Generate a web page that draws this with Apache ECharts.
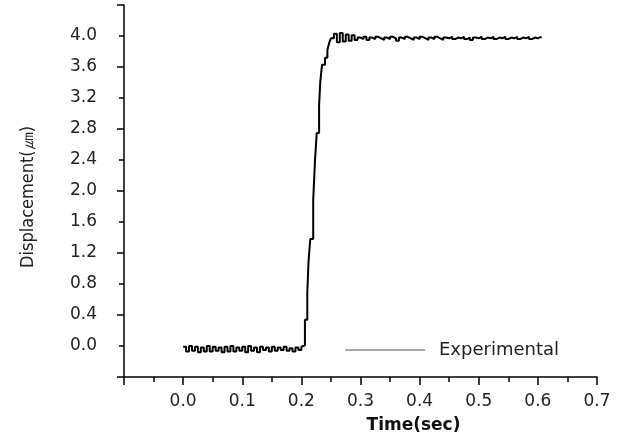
<!DOCTYPE html>
<html>
<head>
<meta charset="utf-8">
<script src="https://cdn.jsdelivr.net/npm/echarts@6/dist/echarts.min.js"></script>
<style>
html,body{margin:0;padding:0;background:#fff;}
#chart{width:622px;height:435px;}
</style>
</head>
<body>
<div id="chart"></div>
<script>
// baseline before the step (s, um)
var baseTime = [0, 0.005, 0.01, 0.015, 0.02, 0.025, 0.03, 0.035, 0.04, 0.045,
    0.05, 0.055, 0.06, 0.065, 0.07, 0.075, 0.08, 0.085, 0.09, 0.095,
    0.1, 0.105, 0.11, 0.115, 0.12, 0.125, 0.13, 0.135, 0.14, 0.145,
    0.15, 0.155, 0.16, 0.165, 0.17, 0.175, 0.18, 0.185, 0.19, 0.195,
    0.2, 0.203];
var baseValue = [-0.01, -0.07, 0.0, -0.06, -0.01, -0.08, -0.02, -0.07, 0.0, -0.07,
    -0.01, -0.06, -0.02, -0.08, -0.01, -0.07, 0.0, -0.07, -0.02, -0.06,
    -0.01, -0.08, 0.0, -0.06, -0.02, -0.08, -0.01, -0.05, -0.02, -0.07,
    -0.01, -0.06, -0.02, -0.05, -0.01, -0.06, -0.03, -0.07, -0.02, -0.05,
    -0.01, 0.01];
// the rise
var riseTime = [0.206, 0.210, 0.212, 0.215, 0.220, 0.223, 0.226, 0.230, 0.232, 0.235, 0.240, 0.244, 0.247, 0.250];
var riseValue = [0.34, 0.68, 1.08, 1.38, 1.88, 2.39, 2.75, 3.11, 3.41, 3.63, 3.72, 3.82, 3.91, 3.97];
// plateau
var plateauTime = [0.255, 0.26, 0.265, 0.27, 0.275, 0.28, 0.285, 0.29, 0.295, 0.30,
    0.305, 0.31, 0.315, 0.32, 0.325, 0.33, 0.335, 0.34, 0.345, 0.35,
    0.355, 0.36, 0.365, 0.37, 0.375, 0.38, 0.385, 0.39, 0.395, 0.40,
    0.405, 0.41, 0.415, 0.42, 0.425, 0.43, 0.435, 0.44, 0.445, 0.45,
    0.455, 0.46, 0.465, 0.47, 0.475, 0.48, 0.485, 0.49, 0.495, 0.50,
    0.505, 0.51, 0.515, 0.52, 0.525, 0.53, 0.535, 0.54, 0.545, 0.55,
    0.555, 0.56, 0.565, 0.57, 0.575, 0.58, 0.585, 0.59, 0.595, 0.60,
    0.605];
var plateauValue = [4.03, 3.92, 4.04, 3.93, 4.02, 3.94, 4.01, 3.95, 3.98, 3.96,
    3.99, 3.95, 3.98, 3.96, 3.99, 3.97, 3.95, 3.98, 3.96, 3.99,
    3.97, 3.94, 3.98, 3.96, 3.99, 3.97, 3.95, 3.98, 3.96, 3.99,
    3.97, 3.95, 3.98, 3.96, 3.99, 3.97, 3.95, 3.98, 3.97, 3.99,
    3.96, 3.98, 3.97, 3.99, 3.96, 3.98, 3.95, 3.98, 3.97, 3.99,
    3.96, 3.98, 3.97, 3.99, 3.96, 3.98, 3.97, 3.99, 3.96, 3.98,
    3.97, 3.99, 3.96, 3.98, 3.97, 3.99, 3.96, 3.98, 3.97, 3.99,
    3.97];

var data = [];
function addPoints(ts, vs){
    for (var i = 0; i < Math.min(ts.length, vs.length); i++) {
        data.push([ts[i], vs[i]]);
    }
}
addPoints(baseTime, baseValue);
addPoints(riseTime, riseValue);
addPoints(plateauTime, plateauValue);

var font = 'DejaVu Sans';
var chart = echarts.init(document.getElementById('chart'));
var option = {
    animation: false,
    backgroundColor: '#fff',
    grid: {left: 124, right: 25, top: 5, bottom: 58, containLabel: false, outerBoundsMode: 'none'},
    legend: {
        left: 345,
        top: 341,
        padding: 0,
        icon: 'rect',
        itemWidth: 80,
        itemHeight: 1,
        itemStyle: {color: '#555'},
        textStyle: {fontFamily: font, fontSize: 18, color: '#222', padding: [0, 0, 0, 9]},
        data: ['Experimental']
    },
    xAxis: {
        type: 'value',
        min: -0.1,
        max: 0.7,
        interval: 0.1,
        name: 'Time(sec)',
        nameLocation: 'middle',
        nameGap: 40,
        nameTextStyle: {fontFamily: font, fontSize: 17, fontWeight: 'bold', color: '#111', padding: [0, 0, 0, 106]},
        axisLine: {onZero: false, lineStyle: {color: '#000', width: 1.5}},
        axisTick: {length: 8, lineStyle: {color: '#000', width: 1.5}},
        minorTick: {show: true, splitNumber: 2, length: 5, lineStyle: {color: '#000', width: 1.5}},
        axisLabel: {
            margin: 16,
            fontFamily: font,
            fontSize: 17,
            color: '#222',
            formatter: function(v){ return v < -0.01 ? '' : v.toFixed(1); }
        },
        splitLine: {show: false}
    },
    yAxis: [{
        type: 'value',
        min: -0.4,
        max: 4.4,
        interval: 0.4,
        name: 'Displacement(㎛)',
        nameLocation: 'middle',
        nameGap: 87,
        nameTextStyle: {fontFamily: "'DejaVu Sans Condensed', Roboto, sans-serif", fontSize: 18, color: '#222', padding: [0, 12, 0, 0]},
        axisLine: {onZero: false, lineStyle: {color: '#000', width: 1.5}},
        axisTick: {length: 5, lineStyle: {color: '#000', width: 1.5}},
        axisLabel: {
            margin: 27,
            fontFamily: font,
            fontSize: 17,
            color: '#222',
            formatter: function(v){ return (v < -0.01 || v > 4.2) ? '' : v.toFixed(1); }
        },
        splitLine: {show: false}
    }, {
        type: 'value',
        position: 'left',
        min: -0.4,
        max: 4.4,
        interval: 0.8,
        axisLine: {show: false, onZero: false},
        axisTick: {show: true, length: 7, lineStyle: {color: '#000', width: 1.5}},
        axisLabel: {show: false},
        splitLine: {show: false}
    }],
    series: [{
        name: 'Experimental',
        type: 'line',
        step: 'end',
        yAxisIndex: 0,
        showSymbol: false,
        symbol: 'none',
        lineStyle: {color: '#000', width: 2},
        data: data
    }]
};
chart.setOption(option);
</script>
</body>
</html>
